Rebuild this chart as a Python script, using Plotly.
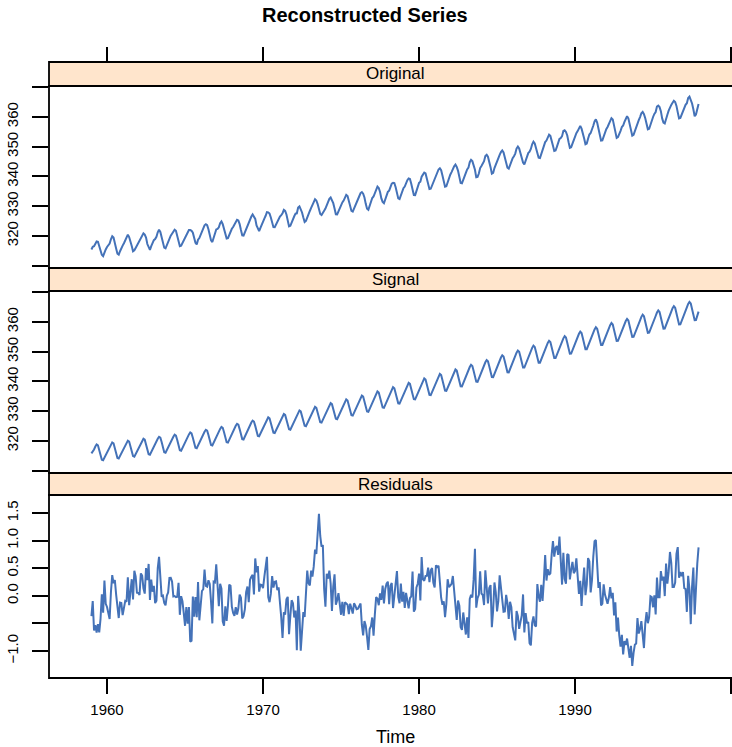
import numpy as np
import plotly.graph_objects as go

# Monthly atmospheric CO2 concentration at Mauna Loa (ppm), Jan 1959 - Dec 1997
start_year = 1959
co2_by_year = [
    [315.42, 316.31, 316.50, 317.56, 318.13, 318.00, 316.39, 314.65, 313.68, 313.18, 314.66, 315.43],
    [316.27, 316.81, 317.42, 318.87, 319.87, 319.43, 318.01, 315.74, 314.00, 313.68, 314.84, 316.03],
    [316.73, 317.54, 318.38, 319.31, 320.42, 319.61, 318.42, 316.63, 314.83, 315.16, 315.94, 316.85],
    [317.78, 318.40, 319.53, 320.42, 320.85, 320.45, 319.45, 317.25, 316.11, 315.27, 316.53, 317.53],
    [318.58, 318.92, 319.70, 321.22, 322.08, 321.31, 319.58, 317.61, 316.05, 315.83, 316.91, 318.20],
    [319.41, 320.07, 320.74, 321.40, 322.06, 321.73, 320.27, 318.54, 316.54, 316.71, 317.53, 318.55],
    [319.27, 320.28, 320.73, 321.97, 322.00, 321.71, 321.05, 318.71, 317.66, 317.14, 318.70, 319.25],
    [320.46, 321.43, 322.23, 323.54, 323.91, 323.59, 322.24, 320.20, 318.48, 317.94, 319.63, 320.87],
    [322.17, 322.34, 322.88, 324.25, 324.83, 323.93, 322.38, 320.76, 319.10, 319.24, 320.56, 321.80],
    [322.40, 322.99, 323.73, 324.86, 325.40, 325.20, 323.98, 321.95, 320.18, 320.09, 321.16, 322.74],
    [323.83, 324.26, 325.47, 326.50, 327.21, 326.54, 325.72, 323.50, 322.22, 321.62, 322.69, 323.95],
    [324.89, 325.82, 326.77, 327.97, 327.91, 327.50, 326.18, 324.53, 322.93, 322.90, 323.85, 324.96],
    [326.01, 326.51, 327.01, 327.62, 328.76, 328.40, 327.20, 325.27, 323.20, 323.40, 324.63, 325.85],
    [326.60, 327.47, 327.58, 329.56, 329.90, 328.92, 327.88, 326.16, 324.68, 325.04, 326.34, 327.39],
    [328.37, 329.40, 330.14, 331.33, 332.31, 331.90, 330.70, 329.15, 327.35, 327.02, 327.99, 328.48],
    [329.18, 330.55, 331.32, 332.48, 332.92, 332.08, 331.01, 329.23, 327.27, 327.21, 328.29, 329.41],
    [330.23, 331.25, 331.87, 333.14, 333.80, 333.43, 331.73, 329.90, 328.40, 328.17, 329.32, 330.59],
    [331.58, 332.39, 333.33, 334.41, 334.71, 334.17, 332.89, 330.77, 329.14, 328.78, 330.14, 331.52],
    [332.75, 333.24, 334.53, 335.90, 336.57, 336.10, 334.76, 332.59, 331.42, 330.98, 332.24, 333.68],
    [334.80, 335.22, 336.47, 337.59, 337.84, 337.72, 336.37, 334.51, 332.60, 332.38, 333.75, 334.78],
    [336.05, 336.59, 337.79, 338.71, 339.30, 339.12, 337.56, 335.92, 333.75, 333.70, 335.12, 336.56],
    [337.84, 338.19, 339.91, 340.60, 341.29, 341.00, 339.39, 337.43, 335.72, 335.84, 336.93, 338.04],
    [339.06, 340.30, 341.21, 342.33, 342.74, 342.08, 340.32, 338.26, 336.52, 336.68, 338.19, 339.44],
    [340.57, 341.44, 342.53, 343.39, 343.96, 343.18, 341.88, 339.65, 337.81, 337.69, 339.09, 340.32],
    [341.20, 342.35, 342.93, 344.77, 345.58, 345.14, 343.81, 342.21, 339.69, 339.82, 340.98, 342.82],
    [343.52, 344.33, 345.11, 346.88, 347.25, 346.62, 345.22, 343.11, 340.90, 341.18, 342.80, 344.04],
    [344.79, 345.82, 347.25, 348.17, 348.74, 348.07, 346.38, 344.51, 342.92, 342.62, 344.06, 345.38],
    [346.11, 346.78, 347.68, 349.37, 350.03, 349.37, 347.76, 345.73, 344.68, 343.99, 345.48, 346.72],
    [347.84, 348.29, 349.23, 350.80, 351.66, 351.07, 349.33, 347.92, 346.27, 346.18, 347.64, 348.78],
    [350.25, 351.54, 352.05, 353.41, 354.04, 353.62, 352.22, 350.27, 348.55, 348.72, 349.91, 351.18],
    [352.60, 352.92, 353.53, 355.26, 355.52, 354.97, 353.75, 351.52, 349.64, 349.83, 351.14, 352.37],
    [353.50, 354.55, 355.23, 356.04, 357.00, 356.07, 354.67, 352.76, 350.82, 351.04, 352.69, 354.07],
    [354.59, 355.63, 357.03, 358.48, 359.22, 358.12, 356.06, 353.92, 352.05, 352.11, 353.64, 354.89],
    [355.88, 356.63, 357.72, 359.07, 359.58, 359.17, 356.94, 354.92, 352.94, 353.23, 354.09, 355.33],
    [356.63, 357.10, 358.32, 359.41, 360.23, 359.55, 357.53, 355.48, 353.67, 353.95, 355.30, 356.78],
    [358.34, 358.89, 359.95, 361.25, 361.67, 360.94, 359.55, 357.49, 355.84, 356.00, 357.59, 359.05],
    [359.98, 361.03, 361.66, 363.48, 363.82, 363.30, 361.94, 359.50, 358.11, 357.80, 359.61, 360.74],
    [362.09, 363.29, 364.06, 364.76, 365.45, 365.01, 363.70, 361.54, 359.51, 359.65, 360.80, 362.38],
    [363.23, 364.06, 364.61, 366.40, 366.84, 365.68, 364.52, 362.57, 360.24, 360.83, 362.49, 364.34],
]

panel_names = ["Original", "Signal", "Residuals"]
x_ticks = [1960, 1970, 1980, 1990, 2000]
x_ticktext = ["1960", "1970", "1980", "1990", ""]
co2_ticks = [310, 320, 330, 340, 350, 360, 370]
co2_ticktext = ["", "320", "330", "340", "350", "360", ""]
res_ticks = [-1.0, -0.5, 0.0, 0.5, 1.0, 1.5]
res_ticktext = ["\u22121.0", "", "0.0", "0.5", "1.0", "1.5"]

# SSA settings: window of ten years, signal = trend (1, 4) + annual (2, 3) + semi-annual (5, 6)
ssa_window = 120
signal_group = [1, 2, 3, 4, 5, 6]

original = np.array(co2_by_year, dtype=float).ravel()
n = original.size
time = start_year + np.arange(n) / 12.0


def ssa_reconstruct(series, window, group):
    """Basic SSA: embed, SVD, keep the chosen eigentriples, diagonal-average back."""
    length = series.size
    k = length - window + 1
    traj = np.column_stack([series[j:j + window] for j in range(k)])
    u, s, vt = np.linalg.svd(traj, full_matrices=False)
    idx = [g - 1 for g in group]
    part = (u[:, idx] * s[idx]) @ vt[idx, :]
    out = np.zeros(length)
    cnt = np.zeros(length)
    for i in range(window):
        out[i:i + k] += part[i, :]
        cnt[i:i + k] += 1
    return out / cnt


signal = ssa_reconstruct(original, ssa_window, signal_group)
residuals = original - signal

# ---- layout geometry (pixels in a 732 x 747 page) ----
W, H = 732, 747
plot_top, plot_bottom = 62, 678
left = 49
strip_h = [(62, 86), (268, 291), (473, 495)]
panel_px = [(86, 268), (291, 473), (495, 678)]
span = plot_bottom - plot_top


def py(ypx):
    return (plot_bottom - ypx) / span


x_range = [1956.28, 2000.06]
x_center = (1956.28 + 2000.64) / 2
co2_range = [309.2, 370.4]
res_range = [-1.489, 1.826]

line_color = "#4472B8"
strip_fill = "#FFE5CC"
font_family = "Liberation Sans, Arial, Helvetica, sans-serif"
border_w = 1.8

fig = go.Figure()
series_list = [original, signal, residuals]
for i, ys in enumerate(series_list, start=1):
    fig.add_trace(go.Scatter(
        x=time, y=ys, mode="lines",
        line=dict(color=line_color, width=2),
        xaxis=f"x{i}", yaxis=f"y{i}", showlegend=False, hoverinfo="skip",
    ))

axis_font = dict(family=font_family, size=15, color="#000")
layout = dict(
    width=W, height=H,
    margin=dict(l=left, r=0, t=plot_top, b=H - plot_bottom, pad=0),
    paper_bgcolor="white", plot_bgcolor="white",
    showlegend=False,
    font=dict(family=font_family, color="#000"),
)

for i in range(1, 4):
    top_px, bot_px = panel_px[i - 1]
    xa = dict(
        range=x_range, domain=[0, 1], anchor=f"y{i}",
        showgrid=False, zeroline=False, showline=False,
        ticks="", showticklabels=False, fixedrange=True,
    )
    if i == 1:
        # ticks above the first strip, no labels
        xa.update(anchor="free", position=1.0, side="top", ticks="outside",
                  tickvals=x_ticks, ticklen=15, tickwidth=1.6, tickcolor="#000")
    if i == 3:
        xa.update(ticks="outside", tickvals=x_ticks, ticktext=x_ticktext,
                  ticklen=15, tickwidth=1.6, tickcolor="#000",
                  showticklabels=True, tickfont=axis_font, ticklabelstandoff=3)
    layout[f"xaxis{i}" if i > 1 else "xaxis"] = xa

    if i < 3:
        yr, tv, tt = co2_range, co2_ticks, co2_ticktext
    else:
        yr, tv, tt = res_range, res_ticks, res_ticktext
    ya = dict(
        range=yr, domain=[py(bot_px), py(top_px)], anchor=f"x{i}",
        showgrid=False, zeroline=False, showline=False,
        ticks="outside", tickvals=tv, ticktext=tt,
        ticklen=16, tickwidth=1.6, tickcolor="#000",
        tickangle=-90, tickfont=axis_font, ticklabelstandoff=8, fixedrange=True,
    )
    layout[f"yaxis{i}" if i > 1 else "yaxis"] = ya

shapes = []
annotations = []
for i in range(3):
    s_top, s_bot = strip_h[i]
    p_top, p_bot = panel_px[i]
    # strip
    shapes.append(dict(type="rect", xref="paper", yref="paper",
                       x0=0, x1=1.05, y0=py(s_bot), y1=py(s_top),
                       fillcolor=strip_fill, line=dict(color="#000", width=border_w),
                       layer="above"))
    # panel border
    shapes.append(dict(type="rect", xref="paper", yref="paper",
                       x0=0, x1=1.05, y0=py(p_bot), y1=py(p_top),
                       fillcolor="rgba(0,0,0,0)", line=dict(color="#000", width=border_w),
                       layer="above"))
    annotations.append(dict(text=panel_names[i], xref="x3", yref="paper",
                            x=x_center, y=py((s_top + s_bot) / 2),
                            showarrow=False, xanchor="center", yanchor="middle",
                            font=dict(family=font_family, size=17, color="#000")))

annotations.append(dict(text="<b>Reconstructed Series</b>", xref="x3", yref="paper",
                        x=x_center - 1.9, y=py(15), showarrow=False,
                        xanchor="center", yanchor="middle",
                        font=dict(family=font_family, size=20, color="#000")))
annotations.append(dict(text="Time", xref="x3", yref="paper",
                        x=x_center, y=py(737), showarrow=False,
                        xanchor="center", yanchor="middle",
                        font=dict(family=font_family, size=18, color="#000")))

layout["shapes"] = shapes
layout["annotations"] = annotations
fig.update_layout(**layout)

fig.write_html("out.html", config={"displayModeBar": False})
